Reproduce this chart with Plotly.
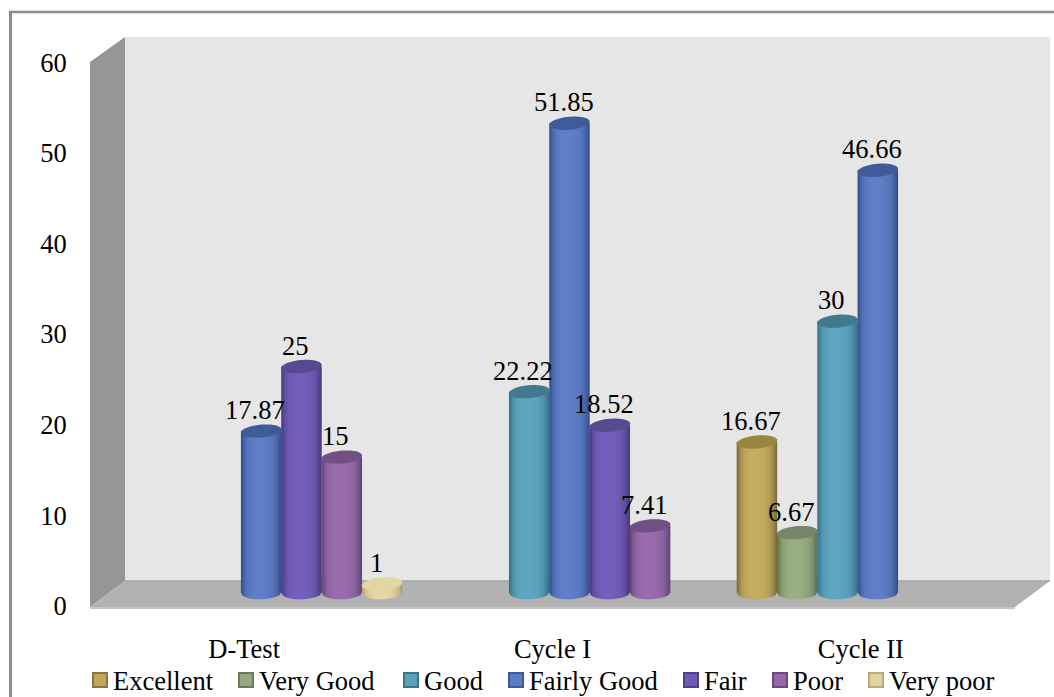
import math
import plotly.graph_objects as go

# Chart data
categories = ["D-Test", "Cycle I", "Cycle II"]
series_names = ["Excellent", "Very Good", "Good", "Fairly Good", "Fair", "Poor", "Very poor"]
excellent = [None, None, 16.67]
very_good = [None, None, 6.67]
good = [None, 22.22, 30]
fairly_good = [17.87, 51.85, 46.66]
fair = [25, 18.52, None]
poor = [15, 7.41, None]
very_poor = [1, None, None]
series_values = [excellent, very_good, good, fairly_good, fair, poor, very_poor]
y_ticks = [0, 10, 20, 30, 40, 50, 60]

# Cylinder colours: (edge shade, centre shade, cap)
palette = [
    ("#7d6d36", "#c4ad60", "#97863f"),
    ("#5e7054", "#99af82", "#75866a"),
    ("#36728a", "#5ea6c0", "#43798f"),
    ("#364f8a", "#5e7ec8", "#405c98"),
    ("#483a80", "#745ebb", "#574a8f"),
    ("#634676", "#9a6cae", "#704f84"),
    ("#b0a377", "#e4d8a4", "#e2d6a2"),
]
legend_swatches = ["#c0a95a", "#93a87e", "#5ba1ba", "#5a7cc2", "#7059b5", "#9567a8", "#dfd39e"]
legend_borders = ["#8a7a40", "#687a5c", "#3f7488", "#3f5a96", "#4f408c", "#6c4a80", "#b8ab80"]

# Page geometry in pixels
PLOT_L, PLOT_R, PLOT_T, PLOT_B = 90, 1050, 37, 606
Y_SCALE = 9.06          # pixels per value unit
X_SCALE = 925 / 3       # pixels per category
DEPTH_DX, DEPTH_DY = 17, 13   # cylinders sit halfway into the floor
BAR_W = 40.5 / X_SCALE
SLOT = 40.3 / X_SCALE
CAP_RY = 6.5 / Y_SCALE
CAP_TILT = 1.6 / Y_SCALE
TEXT_SIZE = 26.5


def px(x):
    return (x - PLOT_L) / (PLOT_R - PLOT_L)


def py(y):
    return (PLOT_B - y) / (PLOT_B - PLOT_T)


def mix(a, b, t):
    ca = [int(a[i:i + 2], 16) for i in (1, 3, 5)]
    cb = [int(b[i:i + 2], 16) for i in (1, 3, 5)]
    return "#" + "".join(f"{round(p + (q - p) * t):02x}" for p, q in zip(ca, cb))


def polygon(points, fill):
    path = "M" + "L".join(f"{px(x):.5f},{py(y):.5f}" for x, y in points) + "Z"
    return dict(type="path", xref="paper", yref="paper", path=path, fillcolor=fill,
                line=dict(width=0), layer="below")


def segment(x0, y0, x1, y1, colour, width):
    return dict(type="line", xref="paper", yref="paper", x0=px(x0), y0=py(y0), x1=px(x1), y1=py(y1),
                line=dict(color=colour, width=width), layer="below")


shapes = [
    polygon([(125, 37), (1050, 37), (1050, 581), (125, 581)], "#e6e6e6"),
    polygon([(90, 62), (125, 37), (125, 581), (90, 607)], "#969696"),
    polygon([(90, 607), (125, 581), (1050, 581), (1015, 607)], "#b2b2b2"),
    segment(125, 581, 1050, 581, "#a3a3a3", 1.5),
    segment(90, 608, 1015, 608, "#c4c4c4", 2),
    segment(10.5, 11, 10.5, 697, "#8c8c8c", 3),
    segment(9, 12, 1054, 12, "#8c8c8c", 2.5),
]

# Nested strips give each bar its rounded shading
strip_fracs = [1.0, 0.95, 0.9, 0.84, 0.76, 0.66, 0.54, 0.4, 0.26]
strip_tones = [0.0, 0.14, 0.3, 0.48, 0.66, 0.8, 0.9, 0.96, 1.0]

fig = go.Figure()
fig.add_trace(go.Scatter(x=[0], y=[0], mode="markers", marker=dict(opacity=0), showlegend=False,
                         hoverinfo="skip", xaxis="x", yaxis="y"))

annotations = []
for s, (name, values) in enumerate(zip(series_names, series_values)):
    edge, centre, cap = palette[s]
    centres = [c + (s - 3) * SLOT if v is not None else None for c, v in enumerate(values)]
    for frac, tone in zip(strip_fracs, strip_tones):
        width = frac * BAR_W
        shift = -(1 - frac) * 0.07 * BAR_W
        colour = mix(edge, centre, tone)
        # rounded underside of the cylinder
        depth = 6.5 / Y_SCALE * math.sqrt(max(1 - frac ** 2, 0))
        if depth > 0:
            fig.add_trace(go.Bar(x=centres, y=[-depth if v is not None else None for v in values],
                                 width=width, offset=shift - width / 2,
                                 marker=dict(color=colour, line=dict(width=0)),
                                 showlegend=False, hoverinfo="skip", xaxis="x2", yaxis="y2"))
        fig.add_trace(go.Bar(x=centres, y=values, name=name,
                             width=width, offset=shift - width / 2,
                             marker=dict(color=colour, line=dict(width=0)),
                             showlegend=False, hoverinfo="skip", xaxis="x2", yaxis="y2"))
    for x, v in zip(centres, values):
        if v is None:
            continue
        # elliptical top of the cylinder
        pts = []
        for k in range(40):
            t = 2 * math.pi * k / 40
            pts.append((x + BAR_W / 2 * math.cos(t),
                        v + CAP_RY * math.sin(t) + CAP_TILT * math.cos(t)))
        shapes.append(dict(type="path", xref="x2", yref="y2",
                           path="M" + "L".join(f"{a:.4f},{b:.4f}" for a, b in pts) + "Z",
                           fillcolor=cap, line=dict(width=0), layer="above"))
        annotations.append(dict(xref="x2", yref="y2", x=x, y=v, text=f"{v:g}", showarrow=False,
                                xshift=-6, yshift=21, xanchor="center", yanchor="middle",
                                font=dict(family="Liberation Serif", size=TEXT_SIZE, color="black")))

# Legend row along the bottom edge
swatch_left = [92, 238, 403, 508, 683, 772, 868]
for name, left, fill, border in zip(series_names, swatch_left, legend_swatches, legend_borders):
    shapes.append(dict(type="rect", xref="paper", yref="paper", x0=px(left + 1), x1=px(left + 15),
                       y0=py(673), y1=py(687), fillcolor=fill,
                       line=dict(color=border, width=2), layer="above"))
    annotations.append(dict(xref="paper", yref="paper", x=px(left + 20), y=py(681), text=name,
                            showarrow=False, xanchor="left", yanchor="middle", xshift=0.5,
                            borderpad=0, borderwidth=0,
                            font=dict(family="Liberation Serif", size=TEXT_SIZE, color="black")))

x_low = -0.5
x_high = x_low + (PLOT_R - PLOT_L) / X_SCALE
y_high = (PLOT_B - PLOT_T) / Y_SCALE
fig.update_layout(
    width=1054, height=697, autosize=False,
    margin=dict(l=PLOT_L, r=1054 - PLOT_R, t=PLOT_T, b=697 - PLOT_B, pad=0),
    paper_bgcolor="white", plot_bgcolor="rgba(0,0,0,0)",
    barmode="overlay", showlegend=False, hovermode=False,
    font=dict(family="Liberation Serif", size=TEXT_SIZE, color="black"),
    shapes=shapes, annotations=annotations,
    xaxis=dict(range=[x_low, x_high], tickmode="array", tickvals=list(range(len(categories))),
               ticktext=categories, showgrid=False, zeroline=False, showline=False,
               ticks="outside", ticklen=19, tickcolor="rgba(0,0,0,0)"),
    yaxis=dict(range=[0, y_high], tickmode="array", tickvals=y_ticks, showgrid=False, zeroline=False,
               showline=False, ticks="outside", ticklen=17, tickcolor="rgba(0,0,0,0)"),
    xaxis2=dict(overlaying="x", visible=False,
                range=[x_low - DEPTH_DX / X_SCALE, x_high - DEPTH_DX / X_SCALE]),
    yaxis2=dict(overlaying="y", visible=False,
                range=[-DEPTH_DY / Y_SCALE, y_high - DEPTH_DY / Y_SCALE]),
)

fig.write_html("out.html", config=dict(displayModeBar=False))
